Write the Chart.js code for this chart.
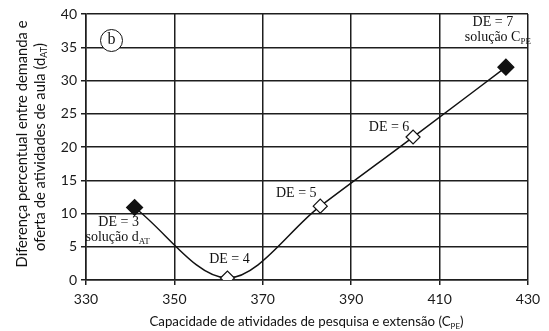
<!DOCTYPE html>
<html>
<head>
<meta charset="utf-8">
<script src="https://cdn.jsdelivr.net/npm/chart.js@4"></script>
<style>
  html, body { margin: 0; padding: 0; background: #fff; }
</style>
</head>
<body>
<canvas id="chart" width="549" height="331"></canvas>
<script>
// values (b)
const capacity = [341, 362, 383, 404, 425];
const diffAT = [10.9, 0.3, 11.1, 21.5, 32.0];
const deLabels = ["DE = 3", "DE = 4", "DE = 5", "DE = 6", "DE = 7"];
const solutionText = ["solução d", "", "", "", "solução C"];
const solutionSub = ["AT", "", "", "", "PE"];
const isSolution = [true, false, false, false, true];
const xMin = 330, xMax = 430, xStep = 20;
const yMin = 0, yMax = 40, yStep = 5;

const sansFont = "Lato";
const serifFont = "Liberation Serif";

// width of a text made of parts, some of them subscript
function partsWidth(ctx, parts, size, family) {
  const subSize = Math.round(size * 0.62);
  let total = 0;
  parts.forEach((p) => {
    ctx.font = (p.sub ? subSize : size) + "px '" + family + "'";
    p.w = ctx.measureText(p.t).width;
    total += p.w;
  });
  return total;
}

function drawParts(ctx, parts, x, y, size, family, align) {
  const subSize = Math.round(size * 0.62);
  const total = partsWidth(ctx, parts, size, family);
  let cx = align === "center" ? x - total / 2 : align === "right" ? x - total : x;
  ctx.textAlign = "left";
  ctx.textBaseline = "middle";
  parts.forEach((p) => {
    ctx.font = (p.sub ? subSize : size) + "px '" + family + "'";
    ctx.fillText(p.t, cx, p.sub ? y + size * 0.3 : y);
    cx += p.w;
  });
}

// pick a font size so the title spans about the same width as in the figure
function fitSize(ctx, parts, width, family) {
  return 14 * width / partsWidth(ctx, parts, 14, family);
}

const annotations = {
  id: "annotations",
  afterDraw(chart) {
    const ctx = chart.ctx;
    const xs = chart.scales.x;
    const ys = chart.scales.y;
    ctx.save();
    ctx.fillStyle = "#111";

    // offsets of label centers from the point (px)
    const off = [
      [[-16, 15], [-17, 30]],
      [[2, -19]],
      [[-24, -13]],
      [[-24, -10]],
      [[-13, -45], [-8, -30]],
    ];
    capacity.forEach((c, i) => {
      const px = xs.getPixelForValue(c);
      const py = ys.getPixelForValue(diffAT[i]);
      const o = off[i];
      drawParts(ctx, [{ t: deLabels[i] }], px + o[0][0], py + o[0][1], 14, serifFont, "center");
      if (solutionText[i]) {
        drawParts(ctx, [{ t: solutionText[i] }, { t: solutionSub[i], sub: true }],
          px + o[1][0], py + o[1][1], 14, serifFont, "center");
      }
    });

    // panel letter
    const a = chart.chartArea;
    ctx.beginPath();
    ctx.arc(a.left + 25.5, a.top + 26.5, 11, 0, Math.PI * 2);
    ctx.fillStyle = "#fff";
    ctx.fill();
    ctx.lineWidth = 1;
    ctx.strokeStyle = "#111";
    ctx.stroke();
    ctx.fillStyle = "#111";
    drawParts(ctx, [{ t: "b" }], a.left + 25.5, a.top + 26, 16, serifFont, "center");

    // axis titles
    const xt = [{ t: "Capacidade de atividades de pesquisa e extensão (C" }, { t: "PE", sub: true }, { t: ")" }];
    drawParts(ctx, xt, 306.5, 322, fitSize(ctx, xt, 315, sansFont), sansFont, "center");

    const yt1 = [{ t: "Diferença percentual entre demanda e" }];
    const yt2 = [{ t: "oferta de atividades de aula (d" }, { t: "AT", sub: true }, { t: ")" }];
    const ySize = fitSize(ctx, yt1, 247, sansFont);
    ctx.rotate(-Math.PI / 2);
    drawParts(ctx, yt1, -144, 22, ySize, sansFont, "center");
    drawParts(ctx, yt2, -147, 40, ySize, sansFont, "center");
    ctx.restore();
  },
};

new Chart(document.getElementById("chart").getContext("2d"), {
  type: "line",
  data: {
    datasets: [
      {
        data: capacity.map((c, i) => ({ x: c, y: diffAT[i] })),
        borderColor: "#111",
        borderWidth: 1.5,
        cubicInterpolationMode: "monotone",
        pointStyle: "rectRot",
        pointRadius: isSolution.map((s) => (s ? 8 : 7)),
        pointBackgroundColor: isSolution.map((s) => (s ? "#111" : "#fff")),
        pointBorderColor: "#111",
        pointBorderWidth: 1.2,
        fill: false,
      },
    ],
  },
  options: {
    responsive: false,
    animation: false,
    layout: { padding: { top: 14, right: 21, left: 0, bottom: 0 } },
    plugins: { legend: { display: false }, tooltip: { enabled: false } },
    scales: {
      x: {
        type: "linear",
        min: xMin,
        max: xMax,
        ticks: { stepSize: xStep, color: "#1a1a1a", padding: 6, font: { family: sansFont, size: 14 } },
        grid: { color: "#1e1e1e", lineWidth: 1.5, tickLength: 5 },
        border: { color: "#1e1e1e", width: 1.5 },
        afterFit: (s) => { s.height = 51; },
      },
      y: {
        min: yMin,
        max: yMax,
        ticks: { stepSize: yStep, color: "#1a1a1a", padding: 4, font: { family: sansFont, size: 14 } },
        grid: { color: "#1e1e1e", lineWidth: 1.5, tickLength: 5 },
        border: { color: "#1e1e1e", width: 1.5 },
        afterFit: (s) => { s.width = 86; },
      },
    },
  },
  plugins: [annotations],
});
</script>
</body>
</html>
